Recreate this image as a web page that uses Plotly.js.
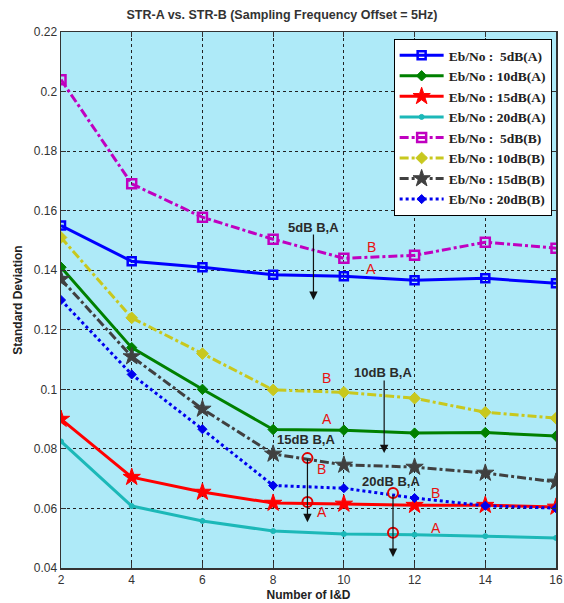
<!DOCTYPE html>
<html>
<head>
<meta charset="utf-8">
<script src="https://cdn.plot.ly/plotly-3.0.1.min.js"></script>
<style>html,body{margin:0;padding:0;background:#fff;}#chart{width:564px;height:603px;}</style>
</head>
<body>
<div id="chart"></div>
<script>
// ---- data ----
const nID = [2, 4, 6, 8, 10, 12, 14, 16];
const a5dB  = [0.155, 0.143, 0.141, 0.1385, 0.138, 0.1366, 0.1373, 0.1356];
const a10dB = [0.141, 0.114, 0.100, 0.0865, 0.0863, 0.0853, 0.0855, 0.0843];
const a15dB = [0.090, 0.0705, 0.0655, 0.0618, 0.0615, 0.0611, 0.0611, 0.0605];
const a20dB = [0.0825, 0.0608, 0.0558, 0.0524, 0.0514, 0.0512, 0.0507, 0.0501];
const b5dB  = [0.204, 0.169, 0.1578, 0.1504, 0.144, 0.145, 0.1494, 0.1474];
const b10dB = [0.151, 0.124, 0.112, 0.0998, 0.099, 0.097, 0.0923, 0.0903];
const b15dB = [0.137, 0.111, 0.0934, 0.0783, 0.0746, 0.0739, 0.0719, 0.0689];
const b20dB = [0.130, 0.105, 0.0866, 0.0677, 0.0668, 0.0635, 0.0609, 0.0601];
const legendNames = ['Eb/No :  5dB(A)', 'Eb/No : 10dB(A)', 'Eb/No : 15dB(A)', 'Eb/No : 20dB(A)',
                     'Eb/No :  5dB(B)', 'Eb/No : 10dB(B)', 'Eb/No : 15dB(B)', 'Eb/No : 20dB(B)'];
const yTicks = [0.04, 0.06, 0.08, 0.1, 0.12, 0.14, 0.16, 0.18, 0.2, 0.22];
const yTickText = ['0.04', '0.06', '0.08', '0.1', '0.12', '0.14', '0.16', '0.18', '0.2', '0.22'];
const xTicks = [2, 4, 6, 8, 10, 12, 14, 16];
// marker circles (15dB and 20dB reference points)
const circX = [8.97, 8.97, 11.39, 11.39];
const circY = [0.0769, 0.0622, 0.0652, 0.0518];
// annotation labels
const groupLabels = ['5dB B,A', '10dB B,A', '15dB B,A', '20dB B,A'];
const groupLabelX = [9.14, 11.11, 8.94, 11.33];
const groupLabelY = [0.1545, 0.1055, 0.0830, 0.0692];
const arrowX    = [9.14, 11.14, 8.97, 11.39];
const arrowFrom = [0.1525, 0.1035, 0.0770, 0.0650];
const arrowTo   = [0.1300, 0.0786, 0.0554, 0.0437];
const abX = [10.77, 9.51, 9.37, 12.6];
const bY  = [0.1478, 0.1038, 0.0732, 0.0652];
const aY  = [0.1404, 0.0900, 0.0588, 0.0534];

// ---- styles ----
const styles = [
  {c:'#0000ff', d:'solid',   s:'square-open', ms:8,  lw:3},
  {c:'#008000', d:'solid',   s:'diamond',     ms:8,  lw:3},
  {c:'#ff0000', d:'solid',   s:'star',        ms:13, lw:3},
  {c:'#1cb8b8', d:'solid',   s:'circle',      ms:5,  lw:3},
  {c:'#c000c0', d:'dashdot', s:'square-open', ms:9,  lw:3},
  {c:'#c8c81e', d:'dashdot', s:'diamond',     ms:9,  lw:3},
  {c:'#404040', d:'dashdot', s:'star',        ms:13, lw:3},
  {c:'#0000ee', d:'dot',     s:'diamond',     ms:7,  lw:3}
];
const series = [a5dB, a10dB, a15dB, a20dB, b5dB, b10dB, b15dB, b20dB];

const traces = series.map((ys, i) => ({
  x: nID, y: ys, type: 'scatter', mode: 'lines+markers', name: legendNames[i],
  line: {color: styles[i].c, dash: styles[i].d, width: styles[i].lw},
  marker: {symbol: styles[i].s, size: styles[i].ms, color: styles[i].c,
           line: {color: styles[i].c, width: styles[i].s.indexOf('open') >= 0 ? 2.5 : 1}}
}));
traces.push({
  x: circX, y: circY, type: 'scatter', mode: 'markers', showlegend: false, hoverinfo: 'skip',
  marker: {symbol: 'circle-open', size: 10, color: '#e00000', line: {color: '#e00000', width: 2}}
});

const annotations = [];
groupLabels.forEach((t, i) => {
  annotations.push({x: groupLabelX[i], y: groupLabelY[i], xref: 'x', yref: 'y', text: t, showarrow: false,
    font: {family: 'Liberation Sans, Arial, sans-serif', size: 13, color: '#2a2a2a', weight: 'bold'}});
  annotations.push({x: arrowX[i], y: arrowTo[i], ax: arrowX[i], ay: arrowFrom[i], axref: 'x', ayref: 'y',
    xref: 'x', yref: 'y', text: '', showarrow: true, arrowhead: 2, arrowsize: 1.4, arrowwidth: 1.2,
    arrowcolor: '#111', standoff: 0, startstandoff: 0});
  annotations.push({x: abX[i], y: bY[i], xref: 'x', yref: 'y', text: 'B', showarrow: false,
    font: {family: 'Liberation Sans, Arial, sans-serif', size: 14, color: '#e81010'}});
  annotations.push({x: abX[i], y: aY[i], xref: 'x', yref: 'y', text: 'A', showarrow: false,
    font: {family: 'Liberation Sans, Arial, sans-serif', size: 14, color: '#e81010'}});
});

const axisFont = {family: 'Liberation Sans, Arial, sans-serif', size: 12, color: '#333'};
const layout = {
  width: 564, height: 603,
  margin: {l: 61, r: 8, t: 32, b: 35},
  paper_bgcolor: '#ffffff',
  plot_bgcolor: '#aeeaf8',
  title: {text: 'STR-A vs. STR-B (Sampling Frequency Offset = 5Hz)', x: 0.5, xanchor: 'center', y: 0.975, yanchor: 'middle',
          font: {family: 'Liberation Sans, Arial, sans-serif', size: 12.5, color: '#333', weight: 'bold'}},
  xaxis: {range: [2, 16], tickvals: xTicks, ticks: 'inside', ticklen: 5, tickcolor: '#333', mirror: 'ticks',
          showline: true, linecolor: '#333', linewidth: 1.5, showgrid: true, gridcolor: '#222', griddash: '3px,3px',
          gridwidth: 1, zeroline: false, tickfont: axisFont,
          title: {text: 'Number of I&D', standoff: 4, font: {family: 'Liberation Sans, Arial, sans-serif', size: 12, color: '#222', weight: 'bold'}}},
  yaxis: {range: [0.04, 0.22], tickvals: yTicks, ticktext: yTickText, ticks: 'inside', ticklen: 5, tickcolor: '#333', mirror: 'ticks',
          showline: true, linecolor: '#333', linewidth: 1.5, showgrid: true, gridcolor: '#222', griddash: '3px,3px',
          gridwidth: 1, zeroline: false, tickfont: axisFont,
          title: {text: 'Standard Deviation', standoff: 8, font: {family: 'Liberation Sans, Arial, sans-serif', size: 12, color: '#222', weight: 'bold'}}},
  legend: {x: 0.672, y: 0.987, xanchor: 'left', yanchor: 'top', bgcolor: '#ffffff', bordercolor: '#000', borderwidth: 1,
           font: {family: 'Liberation Serif, Times New Roman, serif', size: 13.5, color: '#222', weight: 'bold'},
           tracegroupgap: 0, itemwidth: 44},
  annotations: annotations,
  showlegend: true
};
Plotly.newPlot('chart', traces, layout, {displayModeBar: false, staticPlot: true});
</script>
</body>
</html>
